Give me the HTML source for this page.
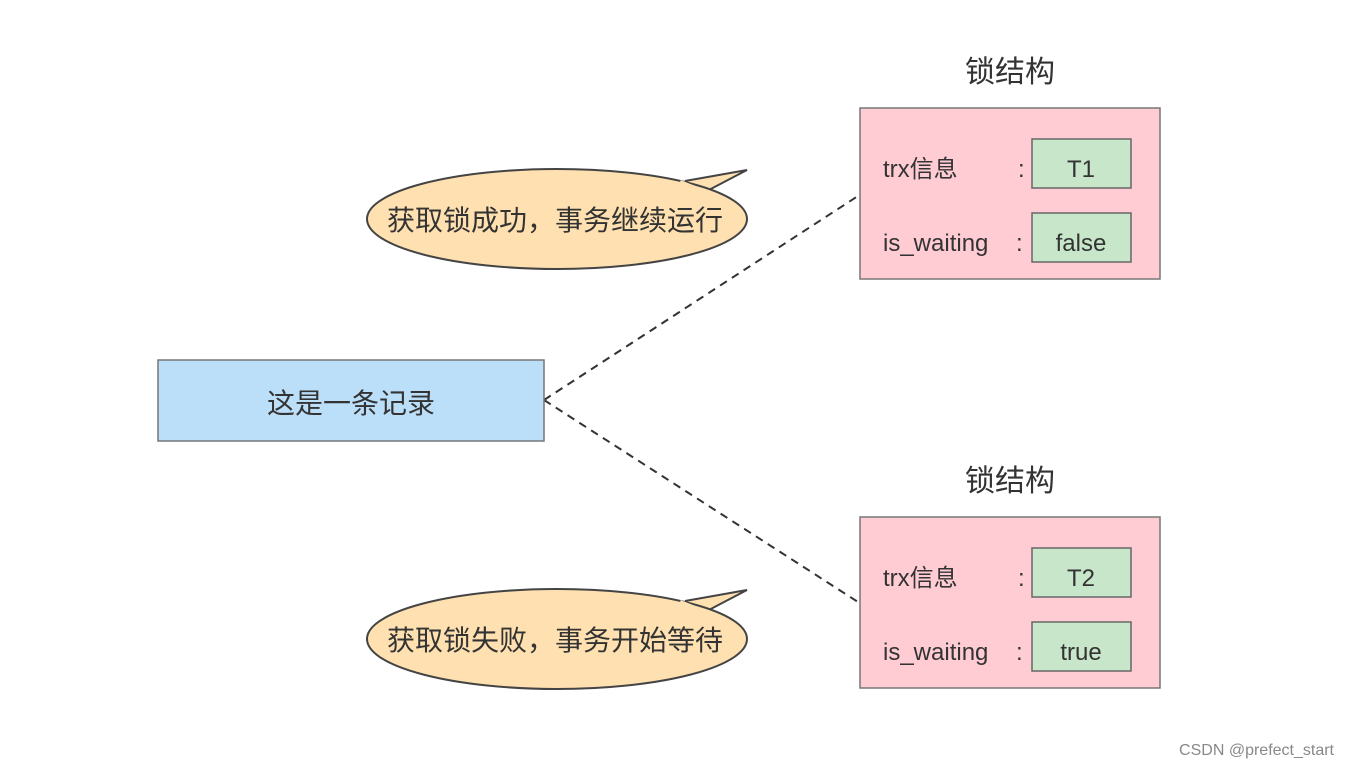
<!DOCTYPE html>
<html><head><meta charset="utf-8"><style>body{margin:0;background:#fff}</style></head><body>
<svg width="1350" height="768" xmlns="http://www.w3.org/2000/svg" font-family="Liberation Sans, Noto Sans CJK SC, sans-serif" fill="#333">
<g stroke="#333" stroke-width="2" stroke-dasharray="8,6" fill="none">
<line x1="544" y1="400" x2="858" y2="196"/>
<line x1="544" y1="400" x2="858" y2="602"/>
</g>
<rect x="158" y="360" width="386" height="81" fill="#bcdff9" stroke="#777" stroke-width="1.5"/>
<text x="351" y="413" font-size="28" text-anchor="middle" fill="#333">这是一条记录</text>
<g id="b1">
<path d="M685,181 L747,170 L705,192" fill="#ffe0b0" stroke="#444" stroke-width="2"/>
<ellipse cx="557" cy="219" rx="190" ry="50" fill="#ffe0b0" stroke="#444" stroke-width="2"/>
<path d="M680,182 L700,190" stroke="#ffe0b0" stroke-width="4"/>
</g>
<text x="555" y="230" font-size="28" text-anchor="middle">获取锁成功，事务继续运行</text>
<use href="#b1" transform="translate(0,420)"/>
<text x="555" y="650" font-size="28" text-anchor="middle">获取锁失败，事务开始等待</text>
<g id="lk">
<text x="1010" y="82" font-size="30" text-anchor="middle">锁结构</text>
<rect x="860" y="108" width="300" height="171" fill="#ffccd4" stroke="#777" stroke-width="1.5"/>
<rect x="1032" y="139" width="99" height="49" fill="#c8e6c9" stroke="#666" stroke-width="1.5"/>
<rect x="1032" y="213" width="99" height="49" fill="#c8e6c9" stroke="#666" stroke-width="1.5"/>
<text x="883" y="177" font-size="24">trx信息</text>
<text x="1018" y="177" font-size="24">:</text>
<text x="883" y="251" font-size="24">is_waiting</text>
<text x="1016" y="251" font-size="24">:</text>
</g>
<use href="#lk" transform="translate(0,409)"/>
<text x="1081" y="177" font-size="24" text-anchor="middle">T1</text>
<text x="1081" y="251" font-size="24" text-anchor="middle">false</text>
<text x="1081" y="586" font-size="24" text-anchor="middle">T2</text>
<text x="1081" y="660" font-size="24" text-anchor="middle">true</text>
<text x="1334" y="755" font-size="16" text-anchor="end" fill="#888">CSDN @prefect_start</text>
</svg>
</body></html>
